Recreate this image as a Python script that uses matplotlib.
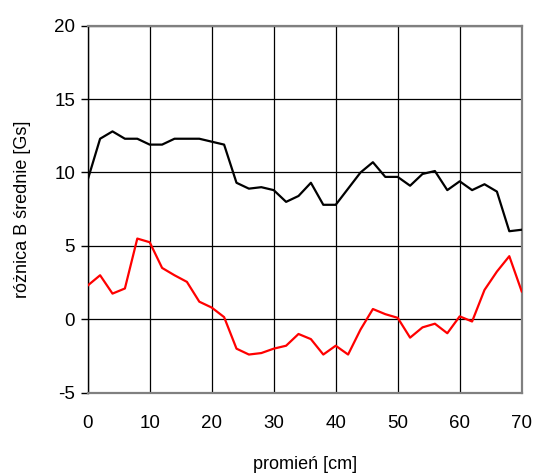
import numpy as np
import matplotlib
matplotlib.use("Agg")
import matplotlib.pyplot as plt

plt.rcParams['font.family'] = ['Liberation Sans', 'DejaVu Sans']
plt.rcParams['axes.unicode_minus'] = False

# radius positions [cm], measured every 2 cm
promien = np.arange(0, 71, 2)

# mean B difference [Gs]
roznica_czarna = [9.5, 12.3, 12.8, 12.3, 12.3, 11.9, 11.9, 12.3, 12.3, 12.3,
                  12.1, 11.9, 9.3, 8.9, 9.0, 8.8, 8.0, 8.4, 9.3, 7.8,
                  7.8, 8.9, 10.0, 10.7, 9.7, 9.7, 9.1, 9.9, 10.1, 8.8,
                  9.4, 8.8, 9.2, 8.7, 6.0, 6.1]
roznica_czerwona = [2.3, 3.0, 1.75, 2.1, 5.5, 5.25, 3.5, 3.0, 2.55, 1.2,
                    0.8, 0.15, -2.0, -2.4, -2.3, -2.0, -1.8, -1.0, -1.35, -2.4,
                    -1.8, -2.4, -0.7, 0.7, 0.35, 0.1, -1.25, -0.55, -0.3, -0.95,
                    0.2, -0.15, 2.0, 3.25, 4.3, 1.9]

fig = plt.figure(figsize=(5.37, 4.75), dpi=100)
ax = fig.add_axes([87.7 / 537, 1 - 392.7 / 475, 434 / 537, 367 / 475])

ax.plot(promien, roznica_czarna, color='black', lw=1.6, zorder=3)
ax.plot(promien, roznica_czerwona, color='#ff0000', lw=1.6, zorder=3)

ax.set_xlim(0, 70)
ax.set_ylim(-5, 20)
ax.set_xticks(range(0, 71, 10))
ax.set_yticks(range(-5, 21, 5))
ax.grid(True, color='black', lw=0.9)
ax.set_axisbelow(True)

for s in ['top', 'right', 'bottom']:
    ax.spines[s].set_color('#808080')
    ax.spines[s].set_linewidth(1.6)
ax.spines['left'].set_color('black')
ax.spines['left'].set_linewidth(1.0)

ax.tick_params(axis='x', length=0, pad=16, labelsize=13.5)
ax.tick_params(axis='y', length=5, width=1, direction='out', pad=4, labelsize=13.5)

ax.set_xlabel('promień [cm]', fontsize=13, labelpad=17)
ax.set_ylabel('różnica B średnie [Gs]', fontsize=13, labelpad=17)

fig.savefig('out.png', dpi=100)
